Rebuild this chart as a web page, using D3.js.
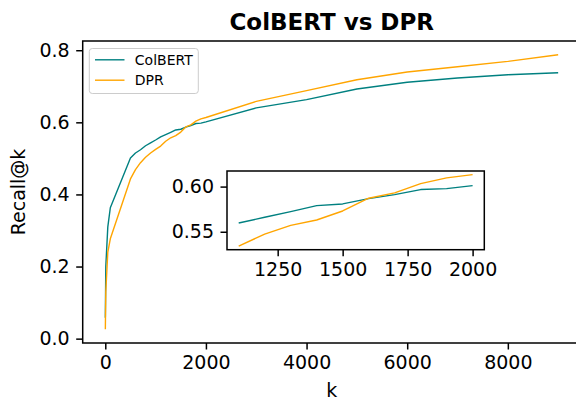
<!DOCTYPE html>
<html>
<head>
<meta charset="utf-8">
<script src="https://cdn.jsdelivr.net/npm/d3@7"></script>
<style>
  html, body { margin: 0; padding: 0; background: #fff; }
  svg { display: block; }
  text { font-family: "DejaVu Sans", sans-serif; fill: #000; }
</style>
</head>
<body>
<svg id="chart" width="576" height="403"></svg>
<script>
// ---- data ----
const kValues = [1, 10, 50, 100, 500, 600, 700, 800, 900, 1000, 1100, 1200, 1300, 1400, 1500, 1600, 1700, 1800, 1900, 2000, 3000, 4000, 5000, 6000, 7000, 8000, 9000];
const colbertRecall = [0.058, 0.20, 0.31, 0.363, 0.501, 0.515, 0.524, 0.535, 0.543, 0.551, 0.5597, 0.5660, 0.5723, 0.5789, 0.5808, 0.5867, 0.5911, 0.5967, 0.5978, 0.6011, 0.640, 0.663, 0.6925, 0.711, 0.723, 0.732, 0.7377];
const dprRecall = [0.026, 0.13, 0.24, 0.277, 0.443, 0.469, 0.488, 0.503, 0.515, 0.525, 0.5341, 0.5474, 0.5571, 0.563, 0.573, 0.5871, 0.593, 0.6033, 0.6097, 0.6133, 0.658, 0.688, 0.718, 0.7396, 0.754, 0.769, 0.7875];
const seriesNames = ["ColBERT", "DPR"];
const seriesColors = ["#008080", "#FFA500"];
const mainXTicks = [0, 2000, 4000, 6000, 8000];
const mainYTicks = [0.0, 0.2, 0.4, 0.6, 0.8];
const insetRange = [1100, 2000];
const insetXTicks = [1250, 1500, 1750, 2000];
const insetYTicks = [0.55, 0.60];
const titleText = "ColBERT vs DPR";
const xLabel = "k";
const yLabel = "Recall@k";

// ---- layout ----
const svg = d3.select("#chart");
const main = { left: 82.7, right: 580.8, top: 41, bottom: 343 };
const inset = { left: 227, right: 484.3, top: 171, bottom: 249.7 };
const tickFont = 19, tickLen = 6.5, tickPad = 6.5;
const lineW = 1.4, spineW = 1.5;

function padded(ext) { const d = (ext[1] - ext[0]) * 0.05; return [ext[0] - d, ext[1] + d]; }

const series = seriesNames.map((name, i) => ({
  name, color: seriesColors[i],
  pts: kValues.map((k, j) => ({ k, v: (i === 0 ? colbertRecall : dprRecall)[j] }))
}));

const allV = colbertRecall.concat(dprRecall);
const x = d3.scaleLinear().domain(padded(d3.extent(kValues))).range([main.left, main.right]);
const y = d3.scaleLinear().domain(padded(d3.extent(allV))).range([main.bottom, main.top]);

// main lines
const gMain = svg.append("g");
const line = d3.line().x(d => x(d.k)).y(d => y(d.v));
series.forEach(s => {
  gMain.append("path").datum(s.pts).attr("d", line)
    .attr("fill", "none").attr("stroke", s.color).attr("stroke-width", lineW)
    .attr("stroke-linejoin", "round");
});

// main axes
function styleAxis(g) {
  g.select(".domain").remove();
  g.selectAll(".tick line").attr("stroke", "#000").attr("stroke-width", spineW);
  g.selectAll(".tick text").attr("font-size", tickFont).attr("font-family", "DejaVu Sans").attr("fill", "#000");
}
const xAxis = d3.axisBottom(x).tickValues(mainXTicks).tickFormat(d3.format("d")).tickSize(tickLen).tickPadding(tickPad);
svg.append("g").attr("transform", `translate(0,${main.bottom})`).call(xAxis).call(styleAxis);
const yAxis = d3.axisLeft(y).tickValues(mainYTicks).tickFormat(d3.format(".1f")).tickSize(tickLen).tickPadding(tickPad);
svg.append("g").attr("transform", `translate(${main.left},0)`).call(yAxis).call(styleAxis);

svg.append("rect").attr("x", main.left).attr("y", main.top)
  .attr("width", main.right - main.left).attr("height", main.bottom - main.top)
  .attr("fill", "none").attr("stroke", "#000").attr("stroke-width", spineW);

// labels
svg.append("text").attr("x", (main.left + main.right) / 2).attr("y", 29.5)
  .attr("text-anchor", "middle").attr("font-size", 23).attr("font-weight", "bold").text(titleText);
svg.append("text").attr("x", (main.left + main.right) / 2).attr("y", 397)
  .attr("text-anchor", "middle").attr("font-size", tickFont).text(xLabel);
svg.append("text").attr("transform", `translate(25,${(main.top + main.bottom) / 2}) rotate(-90)`)
  .attr("text-anchor", "middle").attr("font-size", tickFont).text(yLabel);

// legend
const lg = svg.append("g");
lg.append("rect").attr("x", 89.3).attr("y", 48.5).attr("width", 109).attr("height", 45)
  .attr("rx", 3).attr("fill", "#fff").attr("fill-opacity", 0.8)
  .attr("stroke", "#cccccc").attr("stroke-width", 1);
series.forEach((s, i) => {
  const ly = 59.8 + i * 20.4;
  lg.append("line").attr("x1", 95).attr("x2", 124.5).attr("y1", ly).attr("y2", ly)
    .attr("stroke", s.color).attr("stroke-width", lineW);
  lg.append("text").attr("x", 134.8).attr("y", ly + 5).attr("font-size", 14).text(s.name);
});

// inset
const insetPts = series.map(s => ({ ...s, pts: s.pts.filter(p => p.k >= insetRange[0] && p.k <= insetRange[1]) }));
const insetV = insetPts.flatMap(s => s.pts.map(p => p.v));
const xi = d3.scaleLinear().domain(padded(insetRange)).range([inset.left, inset.right]);
const yi = d3.scaleLinear().domain(padded(d3.extent(insetV))).range([inset.bottom, inset.top]);

svg.append("rect").attr("x", inset.left).attr("y", inset.top)
  .attr("width", inset.right - inset.left).attr("height", inset.bottom - inset.top)
  .attr("fill", "#fff");
const lineI = d3.line().x(d => xi(d.k)).y(d => yi(d.v));
insetPts.forEach(s => {
  svg.append("path").datum(s.pts).attr("d", lineI)
    .attr("fill", "none").attr("stroke", s.color).attr("stroke-width", lineW)
    .attr("stroke-linejoin", "round");
});
svg.append("g").attr("transform", `translate(0,${inset.bottom})`)
  .call(d3.axisBottom(xi).tickValues(insetXTicks).tickFormat(d3.format("d")).tickSize(tickLen).tickPadding(tickPad))
  .call(styleAxis);
svg.append("g").attr("transform", `translate(${inset.left},0)`)
  .call(d3.axisLeft(yi).tickValues(insetYTicks).tickFormat(d3.format(".2f")).tickSize(tickLen).tickPadding(tickPad))
  .call(styleAxis);
svg.append("rect").attr("x", inset.left).attr("y", inset.top)
  .attr("width", inset.right - inset.left).attr("height", inset.bottom - inset.top)
  .attr("fill", "none").attr("stroke", "#000").attr("stroke-width", spineW);
</script>
</body>
</html>
